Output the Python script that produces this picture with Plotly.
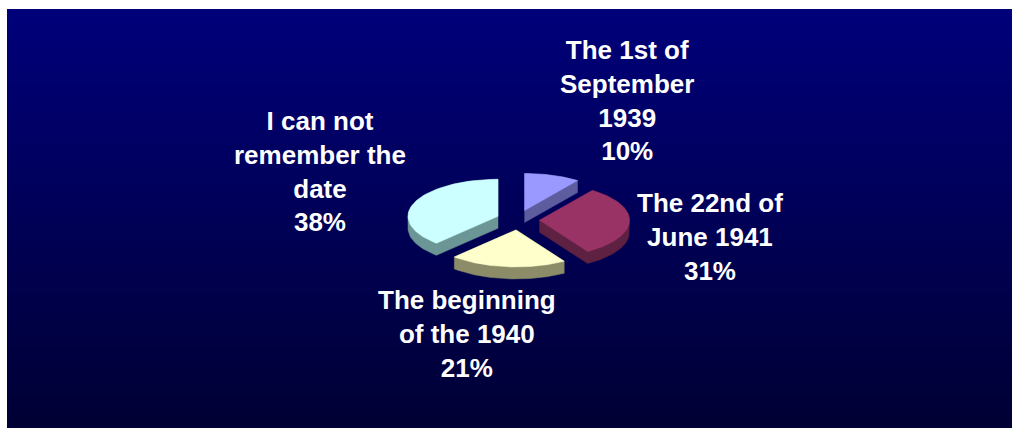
import numpy as np
import plotly.graph_objects as go

# ---- data ----
categories = ["The 1st of<br>September<br>1939", "The 22nd of<br>June 1941",
              "The beginning<br>of the 1940", "I can not<br>remember the<br>date"]
values = [10, 31, 21, 38]
top_colors = ["#9999ff", "#993366", "#ffffcc", "#ccffff"]
side_colors = ["#5c5c9e", "#5e2142", "#8c8c68", "#6c9696"]
label_pos = [(627, 100), (710, 237), (467, 334), (320, 171)]

# ---- geometry (pixel space) ----
W, H = 1019, 436
cx, cy = 518, 220
rx, ry = 90, 37
ex, ey = 21.5, 10
depth = 12


def hull(pts):
    pts = sorted(set(pts))
    def cross(o, a, b):
        return (a[0]-o[0])*(b[1]-o[1]) - (a[1]-o[1])*(b[0]-o[0])
    lower, upper = [], []
    for p in pts:
        while len(lower) >= 2 and cross(lower[-2], lower[-1], p) <= 0:
            lower.pop()
        lower.append(p)
    for p in reversed(pts):
        while len(upper) >= 2 and cross(upper[-2], upper[-1], p) <= 0:
            upper.pop()
        upper.append(p)
    return lower[:-1] + upper[:-1]


total = sum(values)
starts = np.cumsum([0] + values[:-1]) / total * 360
ends = np.cumsum(values) / total * 360

slices = []
for i, v in enumerate(values):
    a0, a1 = starts[i], ends[i]
    mid = np.radians((a0 + a1) / 2)
    ox = cx + ex * np.sin(mid)
    oy = cy - ey * np.cos(mid)
    th = np.radians(np.linspace(a0, a1, 80))
    xs = [ox] + list(ox + rx * np.sin(th)) + [ox]
    ys = [oy] + list(oy - ry * np.cos(th)) + [oy]
    slices.append((oy, i, xs, ys))

fig = go.Figure()

# background gradient (decorative)
nrows = 140
yedges = np.linspace(9, 428, nrows + 1)
zbg = np.linspace(0, 1, nrows).reshape(-1, 1)
fig.add_trace(go.Heatmap(x=[7, 1012], y=yedges, z=zbg,
                         colorscale=[[0, "rgb(0,0,122)"], [1, "rgb(0,0,52)"]],
                         showscale=False, hoverinfo="skip", zsmooth=False))

for oy, i, xs, ys in sorted(slices, key=lambda s: s[0]):
    pts = [(round(x, 3), round(y, 3)) for x, y in zip(xs, ys)]
    pts += [(x, round(y + depth, 3)) for x, y in pts]
    h = hull(pts)
    hx = [p[0] for p in h] + [h[0][0]]
    hy = [p[1] for p in h] + [h[0][1]]
    fig.add_trace(go.Scatter(x=hx, y=hy, mode="lines", fill="toself",
                             fillcolor=side_colors[i], line=dict(width=0.5, color=side_colors[i]),
                             hoverinfo="skip", showlegend=False))
    fig.add_trace(go.Scatter(x=xs, y=ys, mode="lines", fill="toself",
                             fillcolor=top_colors[i], line=dict(width=0.5, color=top_colors[i]),
                             hoverinfo="skip", showlegend=False, name=categories[i]))

annotations = []
for i, (lx, ly) in enumerate(label_pos):
    annotations.append(dict(x=lx, y=ly, xref="x", yref="y",
                            text=f"<b>{categories[i]}<br>{values[i]}%</b>",
                            showarrow=False, align="center", xanchor="center", yanchor="middle",
                            font=dict(family="Liberation Sans, Arial, sans-serif", size=26, color="white")))

fig.update_layout(
    width=W, height=H, margin=dict(l=0, r=0, t=0, b=0),
    paper_bgcolor="white", plot_bgcolor="white",
    xaxis=dict(range=[0, W], visible=False, fixedrange=True),
    yaxis=dict(range=[H, 0], visible=False, fixedrange=True),
    annotations=annotations,
)

fig.write_html("out.html", config={"displayModeBar": False},
               post_script="document.body.style.margin='0';document.body.style.overflow='hidden';")
